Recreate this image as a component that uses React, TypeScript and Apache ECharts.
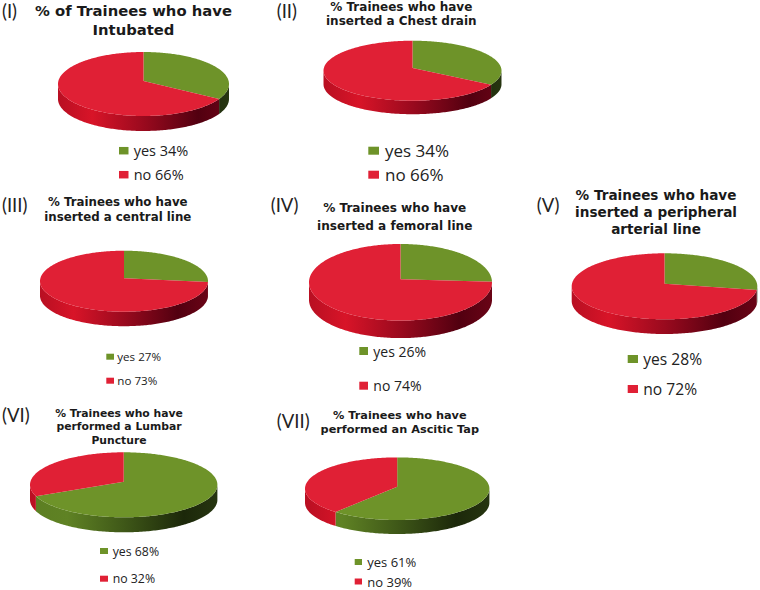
import React, { useEffect, useRef } from "react";
import * as echarts from "echarts";

const numerals = ["(I)", "(II)", "(III)", "(IV)", "(V)", "(VI)", "(VII)"];
const titles = [
  "% of Trainees who have\nIntubated",
  "% Trainees who have\ninserted a Chest drain",
  "% Trainees who have\ninserted a central line",
  "% Trainees who have\ninserted a femoral line",
  "% Trainees who have\ninserted a peripheral\narterial line",
  "% Trainees who have\nperformed a Lumbar\nPuncture",
  "% Trainees who have\nperformed an Ascitic Tap",
];
const yesValues = [34, 34, 27, 26, 28, 68, 61];
const noValues = [66, 66, 73, 74, 72, 32, 39];

const GREEN = "#6E9329";
const RED = "#E02035";
const FONT = "'Open Sans', sans-serif";
const TITLE_FONT = "'DejaVu Sans', sans-serif";

// layout only: pie geometry
const pies = [
  { cx: 143.5, cy: 84, rx: 85.5, ry: 32, apex: 3, depth: 15 },
  { cx: 412.5, cy: 70.7, rx: 89, ry: 30, apex: 2.7, depth: 13.5 },
  { cx: 124, cy: 281.2, rx: 84, ry: 30.5, apex: 3, depth: 14.5 },
  { cx: 400.5, cy: 282.3, rx: 91.5, ry: 38.3, apex: 3, depth: 17.5 },
  { cx: 664.5, cy: 286.3, rx: 92.8, ry: 33, apex: 2.6, depth: 14.7 },
  { cx: 123.7, cy: 484.8, rx: 93.7, ry: 32.5, apex: 3, depth: 15 },
  { cx: 397.2, cy: 488.7, rx: 92.2, ry: 31.3, apex: 2, depth: 14 },
];
// layout only: title centre x, first line centre y, line height, font size
const titleBoxes = [
  { x: 133.5, y: 10, lh: 19, fs: 14.8 },
  { x: 401.3, y: 6.7, lh: 14, fs: 12 },
  { x: 117.8, y: 201.7, lh: 15, fs: 11.8 },
  { x: 394.7, y: 208.3, lh: 17.7, fs: 12.1 },
  { x: 656, y: 194.7, lh: 17.2, fs: 13.6 },
  { x: 119, y: 413.7, lh: 13.2, fs: 10.8 },
  { x: 399.8, y: 415.7, lh: 13.5, fs: 11.3 },
];
// layout only: swatch x, swatch w, swatch h, text x, yes y, no y, font size
const legends = [
  { x: 119, w: 9.5, h: 7.5, tx: 133.7, y1: 150.7, y2: 174.7, fs: 14.5 },
  { x: 368.3, w: 10.7, h: 8, tx: 385, y1: 150.7, y2: 174.7, fs: 17 },
  { x: 106.3, w: 7.7, h: 6, tx: 117.3, y1: 356.7, y2: 380.7, fs: 11.6 },
  { x: 359.3, w: 8.7, h: 8, tx: 373.3, y1: 351, y2: 385.7, fs: 14 },
  { x: 627.7, w: 10.3, h: 8, tx: 643.3, y1: 359, y2: 389, fs: 15.6 },
  { x: 100, w: 8, h: 6, tx: 112.7, y1: 551, y2: 578.7, fs: 12.3 },
  { x: 354.7, w: 7.3, h: 6, tx: 367.3, y1: 562, y2: 581.5, fs: 13 },
];
// layout only: numeral left x and centre y
const numeralPos = [
  [2, 11], [276.7, 11], [2, 205], [270.7, 205], [536.7, 205], [2, 415], [276.7, 420.7],
];

const sideStops = (base: string) =>
  base === RED
    ? [
        { offset: 0, color: "#B80F22" },
        { offset: 0.2, color: "#D81428" },
        { offset: 0.5, color: "#9A0A1E" },
        { offset: 0.82, color: "#520010" },
        { offset: 1, color: "#6A0416" },
      ]
    : [
        { offset: 0, color: "#5C7E22" },
        { offset: 0.2, color: "#5F8224" },
        { offset: 0.5, color: "#3F5818" },
        { offset: 0.82, color: "#1C280A" },
        { offset: 1, color: "#263510" },
      ];

// Rim point: the ray leaving the apex at this angle, where it meets the ellipse.
function rimPoint(p: any, deg: number) {
  const t = (deg * Math.PI) / 180;
  const e = p.apex / p.ry;
  const dx = Math.sin(t);
  const dy = -Math.cos(t);
  const s = e * dy + Math.sqrt(e * e * dy * dy - e * e + 1);
  return [p.cx + p.rx * s * dx, p.cy + p.ry * (s * dy - e)];
}

function arc(p: any, a0: number, a1: number) {
  const pts: number[][] = [];
  const n = Math.max(2, Math.ceil(a1 - a0));
  for (let i = 0; i <= n; i++) pts.push(rimPoint(p, a0 + ((a1 - a0) * i) / n));
  return pts;
}

function makeSeries(i: number) {
  const p = pies[i];
  const vals = [yesValues[i], noValues[i]];
  const colors = [GREEN, RED];
  return {
    type: "custom",
    name: titles[i].replace(/\n/g, " "),
    coordinateSystem: "none",
    silent: true,
    data: vals.map((v, k) => ({ value: [v], name: k === 0 ? "yes" : "no" })),
    renderItem: (params: any, api: any) => {
      const k = params.dataIndex;
      const total = vals[0] + vals[1];
      const prior = k === 0 ? 0 : vals[0];
      const start = (prior / total) * 360;
      const end = ((prior + api.value(0)) / total) * 360;
      const color = colors[k];
      const children: any[] = [];
      const rim = arc(p, start, end);
      const front = rim.filter((pt) => pt[1] >= p.cy);
      if (front.length > 1) {
        const bottom = front.map((pt) => [pt[0], pt[1] + p.depth]).reverse();
        children.push({
          type: "polygon",
          shape: { points: front.concat(bottom) },
          style: {
            fill: {
              type: "linear",
              global: true,
              x: p.cx - p.rx,
              y: 0,
              x2: p.cx + p.rx,
              y2: 0,
              colorStops: sideStops(color),
            },
          },
        });
      }
      children.push({
        type: "polygon",
        shape: { points: [[p.cx, p.cy - p.apex]].concat(rim) },
        style: { fill: color },
      });
      return { type: "group", children };
    },
  };
}

export default function App() {
  const ref = useRef<HTMLDivElement>(null);
  useEffect(() => {
    const chart = echarts.init(ref.current!, null, { renderer: "svg" });
    const graphic: any[] = [];
    numerals.forEach((n, i) => {
      graphic.push({
        type: "text",
        x: numeralPos[i][0],
        y: numeralPos[i][1],
        style: {
          text: n,
          fill: "#222",
          font: "18.5px Lato, sans-serif",
          textVerticalAlign: "middle",
        },
      });
    });
    legends.forEach((l, i) => {
      const rows = [
        { label: `yes ${yesValues[i]}%`, y: l.y1, color: GREEN },
        { label: `no ${noValues[i]}%`, y: l.y2, color: RED },
      ];
      rows.forEach((r) => {
        graphic.push({
          type: "rect",
          shape: { x: l.x, y: r.y - l.h / 2, width: l.w, height: l.h },
          style: { fill: r.color },
        });
        graphic.push({
          type: "text",
          x: l.tx,
          y: r.y,
          style: {
            text: r.label,
            fill: "#222",
            font: `${l.fs}px ${FONT}`,
            lineHeight: l.fs,
            textVerticalAlign: "middle",
          },
        });
      });
    });
    chart.setOption({
      animation: false,
      backgroundColor: "#ffffff",
      title: titles.map((t, i) => {
        const b = titleBoxes[i];
        return {
          text: t,
          left: b.x,
          top: b.y - b.lh / 2,
          padding: 0,
          textAlign: "center",
          textStyle: {
            fontFamily: TITLE_FONT,
            fontWeight: "bold",
            fontSize: b.fs,
            lineHeight: b.lh,
            color: "#1a1a1a",
          },
        };
      }),
      graphic,
      series: pies.map((_, i) => makeSeries(i)),
    });
    return () => chart.dispose();
  }, []);
  return (
    <div
      ref={ref}
      style={{ position: "absolute", left: 0, top: 0, width: 760, height: 590 }}
    />
  );
}
